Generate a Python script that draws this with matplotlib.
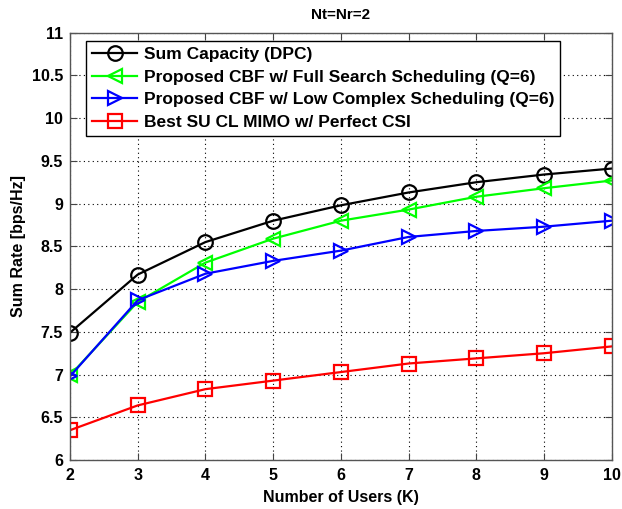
import matplotlib
matplotlib.use("Agg")
import matplotlib.pyplot as plt
from matplotlib import font_manager

names = {f.name for f in font_manager.fontManager.ttflist}
family = "Liberation Sans Narrow" if "Liberation Sans Narrow" in names else "Liberation Sans"
plt.rcParams["font.family"] = [family, "DejaVu Sans"]

users = [2, 3, 4, 5, 6, 7, 8, 9, 10]
dpc = [7.49, 8.17, 8.55, 8.80, 8.98, 9.13, 9.25, 9.34, 9.41]
cbf_full = [6.99, 7.85, 8.31, 8.59, 8.80, 8.93, 9.08, 9.18, 9.27]
cbf_low = [6.98, 7.87, 8.18, 8.33, 8.45, 8.61, 8.68, 8.73, 8.80]
su_mimo = [6.35, 6.64, 6.83, 6.93, 7.03, 7.13, 7.19, 7.25, 7.33]

labels = [
    "Sum Capacity (DPC)",
    "Proposed CBF w/ Full Search Scheduling (Q=6)",
    "Proposed CBF w/ Low Complex Scheduling (Q=6)",
    "Best SU CL MIMO w/ Perfect CSI",
]

fig = plt.figure(figsize=(6.22, 5.09), dpi=100)
ax = fig.add_axes([0.1125, 0.096, 0.871, 0.840])

common = dict(linewidth=1.6, markersize=10.5, markerfacecolor="none", markeredgewidth=1.6)
ax.plot(users, dpc, color="black", marker="o", label=labels[0], **common)
ax.plot(users, cbf_full, color="#00ff00", marker="<", label=labels[1], **common)
ax.plot(users, cbf_low, color="#0000ff", marker=">", label=labels[2], **common)
ax.plot(users, su_mimo, color="#ff0000", marker="s", label=labels[3], **common)

ax.set_xlim(2, 10)
ax.set_ylim(6, 11)
ax.set_xticks(users)
ax.set_yticks([6, 6.5, 7, 7.5, 8, 8.5, 9, 9.5, 10, 10.5, 11])
ax.set_yticklabels(["6", "6.5", "7", "7.5", "8", "8.5", "9", "9.5", "10", "10.5", "11"])
ax.grid(True, linestyle=(0, (1, 3)), color="black", linewidth=0.8)
ax.tick_params(direction="in", length=5, labelsize=11.5, width=0.8, colors="#444444",
               labelcolor="black", top=True, right=True)
ax.tick_params(axis="x", pad=6)
ax.tick_params(axis="y", pad=5)
for lab in ax.get_xticklabels() + ax.get_yticklabels():
    lab.set_fontweight("bold")
for sp in ax.spines.values():
    sp.set_color("#555555")
    sp.set_linewidth(1.0)

ax.set_xlabel("Number of Users (K)", fontsize=11.5, fontweight="bold", labelpad=5)
ax.set_ylabel("Sum Rate [bps/Hz]", fontsize=11.5, fontweight="bold", labelpad=4)
ax.set_title("Nt=Nr=2", fontsize=11, fontweight="bold", pad=10)

leg = ax.legend(loc="upper left", bbox_to_anchor=(0.03, 0.98), fancybox=False,
                edgecolor="black", framealpha=1, borderaxespad=0.0,
                prop={"size": 12.5, "weight": "bold"}, handlelength=2.6,
                handletextpad=0.35, labelspacing=0.42, borderpad=0.35)
leg.get_frame().set_linewidth(1.0)

fig.savefig("out.png", dpi=100)
